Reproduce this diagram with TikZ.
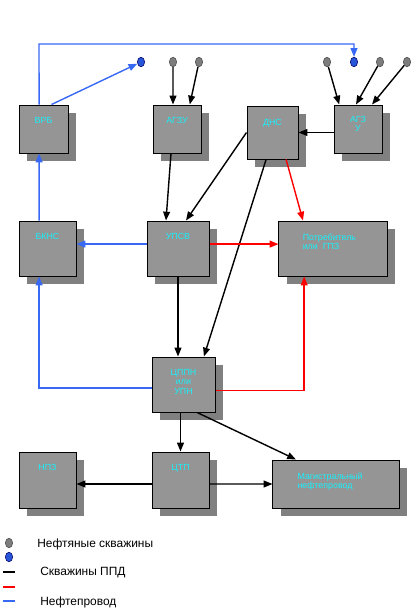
\documentclass[tikz,border=0pt]{standalone}
\usepackage{fontspec}
\setmainfont{Liberation Sans}
\usetikzlibrary{arrows.meta,positioning,shapes.geometric,shadows}
\definecolor{boxgray}{RGB}{149,149,149}
\definecolor{shadowgray}{RGB}{128,128,128}
\definecolor{tagcyan}{RGB}{25,240,250}
\definecolor{pipeblue}{RGB}{55,105,245}
\definecolor{wellgray}{RGB}{125,125,125}
\definecolor{wellblue}{RGB}{40,85,215}
\tikzset{
  unit/.style={draw, rectangle, fill=boxgray, line width=0.7pt,
    drop shadow={shadow xshift=0.2cm, shadow yshift=-0.2cm, fill=shadowgray, opacity=1}},
  tag/.style={text=tagcyan, font=\fontsize{6.3}{6.6}\selectfont, align=center, inner sep=0pt},
  well/.style={draw=black!70, ellipse, fill=wellgray, minimum width=0.18cm, minimum height=0.24cm, inner sep=0pt},
  bluewell/.style={well, fill=wellblue, draw=blue!40!black},
  flow/.style={line width=1pt, -{Triangle[length=2.2mm,width=1.7mm]}},
  oilpipe/.style={flow, draw=pipeblue, color=pipeblue},
  gasline/.style={flow, draw=red, color=red}
}

\begin{document}
\begin{tikzpicture}[x=0.025cm, y=-0.025cm]
            \useasboundingbox (0,0) rectangle (412,613);

            % Wells
            \node[bluewell] (b1) at (141,62) {};
            \node[well] (w1) at (173,62) {};
            \node[well] (w2) at (199,62) {};
            \node[well] (w3) at (327,62) {};
            \node[bluewell] (b2) at (354,62) {};
            \node[well] (w4) at (380,62) {};
            \node[well] (w5) at (407,62) {};

            % Top row
            \node[unit, minimum width=1.225cm, minimum height=1.2cm] (vrb) at (43.5,129) {};
            \node[tag, anchor=north] at ([yshift=-0.32cm]vrb.north) {ВРБ};
            \node[unit, minimum width=1.2cm, minimum height=1.2cm] (agzu) at (177,129) {};
            \node[tag, anchor=north] at ([yshift=-0.32cm]agzu.north) {АГЗУ};
            \node[unit, minimum width=1.275cm, minimum height=1.325cm] (dns) at (272.5,132.5) {};
            \node[tag, anchor=north] at ([yshift=-0.35cm]dns.north) {ДНС};
            \node[unit, minimum width=1.2cm, minimum height=1.2cm] (agzu2) at (358,129) {};
            \node[tag, anchor=north] at ([yshift=-0.29cm]agzu2.north) {АГЗ\\У};

            % Middle row
            \node[unit, minimum width=1.425cm, minimum height=1.375cm] (bkns) at (47.5,248.5) {};
            \node[tag, anchor=north] at ([yshift=-0.32cm]bkns.north) {БКНС};
            \node[unit, minimum width=1.55cm, minimum height=1.375cm] (upsv) at (178,248.5) {};
            \node[tag, anchor=north] at ([yshift=-0.32cm]upsv.north) {УПСВ};
            \node[unit, minimum width=2.7cm, minimum height=1.375cm] (potr) at (333,248.5) {};
            \node[tag, align=left, anchor=north west] at ([xshift=0.6cm,yshift=-0.32cm]potr.north west) {Потребитель\\или\ \ ГПЗ};

            % Treatment
            \node[unit, minimum width=1.575cm, minimum height=1.375cm] (cppn) at (183.5,384.5) {};
            \node[tag, anchor=north] at ([yshift=-0.32cm]cppn.north) {ЦППН\\или\\УПН};

            % Bottom row
            \node[unit, minimum width=1.425cm, minimum height=1.4cm] (npz) at (47.5,480) {};
            \node[tag, anchor=north] at ([yshift=-0.32cm]npz.north) {НПЗ};
            \node[unit, minimum width=1.425cm, minimum height=1.4cm] (ctp) at (180.5,480) {};
            \node[tag, anchor=north] at ([yshift=-0.32cm]ctp.north) {ЦТП};
            \node[unit, minimum width=3.15cm, minimum height=1.2cm] (mag) at (336,484) {};
            \node[tag, align=left, anchor=north west] at ([xshift=0.62cm,yshift=-0.32cm]mag.north west) {Магистральный\\нефтепровод};

            % Water injection loop
            \coordinate (ringtop) at (39,44);
            \draw[oilpipe] ([xshift=-0.11cm]vrb.north) -- (ringtop) -| (b2);
            \draw[oilpipe] ([xshift=0.2cm]vrb.north) -- (b1);

            % Wells to metering units
            \draw[flow] (w1) -- ([xshift=-0.1cm]agzu.north);
            \draw[flow] (w2) -- ([xshift=0.32cm]agzu.north);
            \draw[flow] (w3) -- ([xshift=-0.47cm]agzu2.north);
            \draw[flow] (w4) -- ([xshift=-0.05cm]agzu2.north);
            \draw[flow] (w5) -- ([xshift=0.35cm]agzu2.north);

            % Arrows
            \draw[flow] (agzu2.west |- dns.east) -- (dns.east);
            \draw[flow] ([xshift=-0.15cm]agzu.south) -- ([xshift=-0.3cm]upsv.north);
            \draw[flow] (dns.west) -- ([xshift=0.2cm]upsv.north);
            \draw[flow] ([xshift=-0.16cm]dns.south) -- ([xshift=0.51cm]cppn.north);
            \draw[gasline] ([xshift=0.34cm]dns.south) -- ([xshift=-0.75cm]potr.north);
            \draw[oilpipe] ([yshift=0.11cm]upsv.west) -- ([yshift=0.11cm]bkns.east);
            \draw[oilpipe] ([xshift=-0.21cm]bkns.north) -- ([xshift=-0.11cm]vrb.south);
            \draw[gasline] ([yshift=0.11cm]upsv.east) -- ([yshift=0.11cm]potr.west);
            \draw[flow] (upsv.south) -- (upsv.south |- cppn.north);
            \draw[oilpipe] ([yshift=-0.09cm]cppn.west) -| ([xshift=-0.21cm]bkns.south);
            \draw[gasline] ([yshift=-0.15cm]cppn.east) -| ([xshift=-0.72cm]potr.south);
            \draw[flow] (cppn.south -| ctp.north) -- (ctp.north);
            \draw[flow] ([xshift=0.34cm]cppn.south) -- ([xshift=-1cm]mag.north);
            \draw[flow] ([yshift=-0.1cm]ctp.west) -- ([yshift=-0.1cm]npz.east);
            \draw[flow] ([yshift=-0.1cm]ctp.east) -- (mag.west);

            % Legend
            \node[well] (lw1) at (9,543) {};
            \node[bluewell] (lw2) at (9,557) {};
            \draw[line width=1pt] (3,572) -- (15,572);
            \draw[line width=1pt, red] (3,587) -- (15,587);
            \draw[line width=1pt, pipeblue] (3,601) -- (15,601);
            \node[anchor=west, font=\fontsize{8.5}{10}\selectfont, inner sep=0pt] (lt1) at (37,544) {Нефтяные скважины};
            \node[anchor=west, font=\fontsize{8.5}{10}\selectfont, inner sep=0pt] (lt2) at (40,573) {Скважины ППД};
            \node[anchor=west, font=\fontsize{8.5}{10}\selectfont, inner sep=0pt] (lt3) at (40,602) {Нефтепровод};
        \end{tikzpicture}
\end{document}
